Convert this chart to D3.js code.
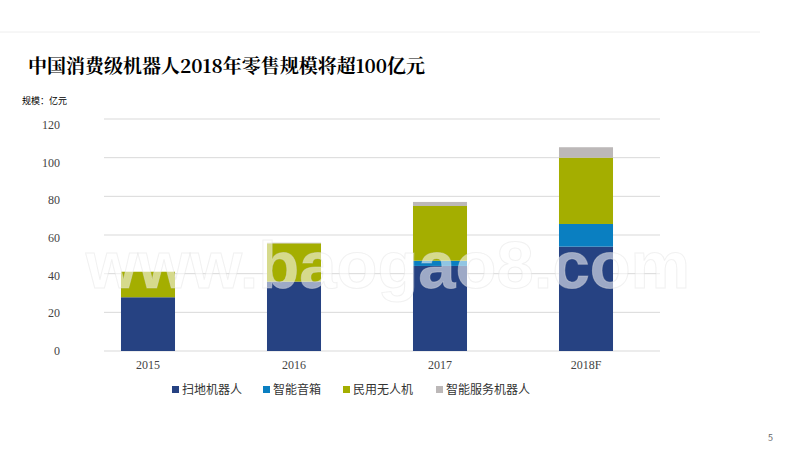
<!DOCTYPE html>
<html><head><meta charset="utf-8">
<script src="https://cdn.jsdelivr.net/npm/d3@7"></script>
<style>body{margin:0;background:#fff;font-family:"Noto Sans CJK SC",sans-serif}</style>
</head><body><svg id="chart" width="800" height="450"></svg>
<script>
var years = ['2015', '2016', '2017', '2018F']
var seriesNames = ['扫地机器人', '智能音箱', '民用无人机', '智能服务机器人']
var sweeper = [27.8, 35.9, 44, 54]
var speaker = [0, 0, 2.7, 11.7]
var drone = [13.2, 19.8, 28.3, 34.3]
var service = [0, 0.3, 2.1, 5.4]
var yTicks = [0, 20, 40, 60, 80, 100, 120]
var colors = ['#264282', '#0a7fc1', '#a4ae00', '#bcb8b8']

var svg = d3.select('#chart')
var rows = years.map(function (y, i) {
  return { year: y, s0: sweeper[i], s1: speaker[i], s2: drone[i], s3: service[i] }
})
var stack = d3.stack().keys(['s0', 's1', 's2', 's3'])(rows)

var x = d3.scaleBand().domain(years).range([75, 659]).paddingInner(0.63).paddingOuter(0.315)
var y = d3.scaleLinear().domain([0, 120]).range([351, 119])

// title
svg.append('text').attr('x', 28).attr('y', 73).text('中国消费级机器人2018年零售规模将超100亿元')
  .style('font-family', '"Noto Serif CJK SC","Noto Sans CJK SC",serif').style('font-weight', 'bold').style('font-size', '19px')
svg.append('text').attr('x', 22).attr('y', 104).text('规模：亿元').style('font-size', '9px')
svg.append('line').attr('x1', 0).attr('x2', 760).attr('y1', 32).attr('y2', 32).attr('stroke', '#eee')

// grid + y labels
svg.selectAll('.grid').data(yTicks).enter().append('line')
  .attr('x1', 104).attr('x2', 660).attr('y1', function (d) { return y(d) }).attr('y2', function (d) { return y(d) })
  .attr('stroke', '#d9d9d9').attr('stroke-width', 1)
svg.selectAll('.yl').data(yTicks).enter().append('text')
  .attr('x', 60).attr('y', function (d) { return y(d) + 4 + d / 20 }).attr('text-anchor', 'end')
  .style('font-family', '"Liberation Serif",serif').style('font-size', '12px').attr('fill', '#444').text(function (d) { return d })

// bars
stack.forEach(function (layer, k) {
  svg.selectAll('.b' + k).data(layer).enter().append('rect')
    .attr('x', function (d) { return x(d.data.year) })
    .attr('width', x.bandwidth())
    .attr('y', function (d) { return y(d[1]) })
    .attr('height', function (d) { return y(d[0]) - y(d[1]) })
    .attr('fill', colors[k])
})

// x labels
svg.selectAll('.xl').data(years).enter().append('text')
  .attr('x', function (d) { return x(d) + x.bandwidth() / 2 }).attr('y', 369).attr('text-anchor', 'middle')
  .style('font-family', '"Liberation Serif",serif').style('font-size', '12px').attr('fill', '#444').text(function (d) { return d })

// legend
var lx = [172, 263, 343, 436]
seriesNames.forEach(function (n, i) {
  svg.append('rect').attr('x', lx[i]).attr('y', 386).attr('width', 7).attr('height', 7).attr('fill', colors[i])
  svg.append('text').attr('x', lx[i] + 10).attr('y', 394).style('font-size', '12px').attr('fill', '#333').text(n)
})

// watermark
svg.append('text').attr('x', 388).attr('y', 288).attr('text-anchor', 'middle').text('www.baogao8.com')
  .style('font-family', '"Liberation Sans",Arial,sans-serif').style('font-weight', 'bold').style('font-size', '67px')
  .attr('fill', '#ffffff').attr('fill-opacity', 0.55).attr('stroke', '#ddd').attr('stroke-opacity', 0.4)

svg.append('text').attr('x', 768).attr('y', 441).style('font-size', '9px').attr('fill', '#666').text('5')
</script></body></html>
